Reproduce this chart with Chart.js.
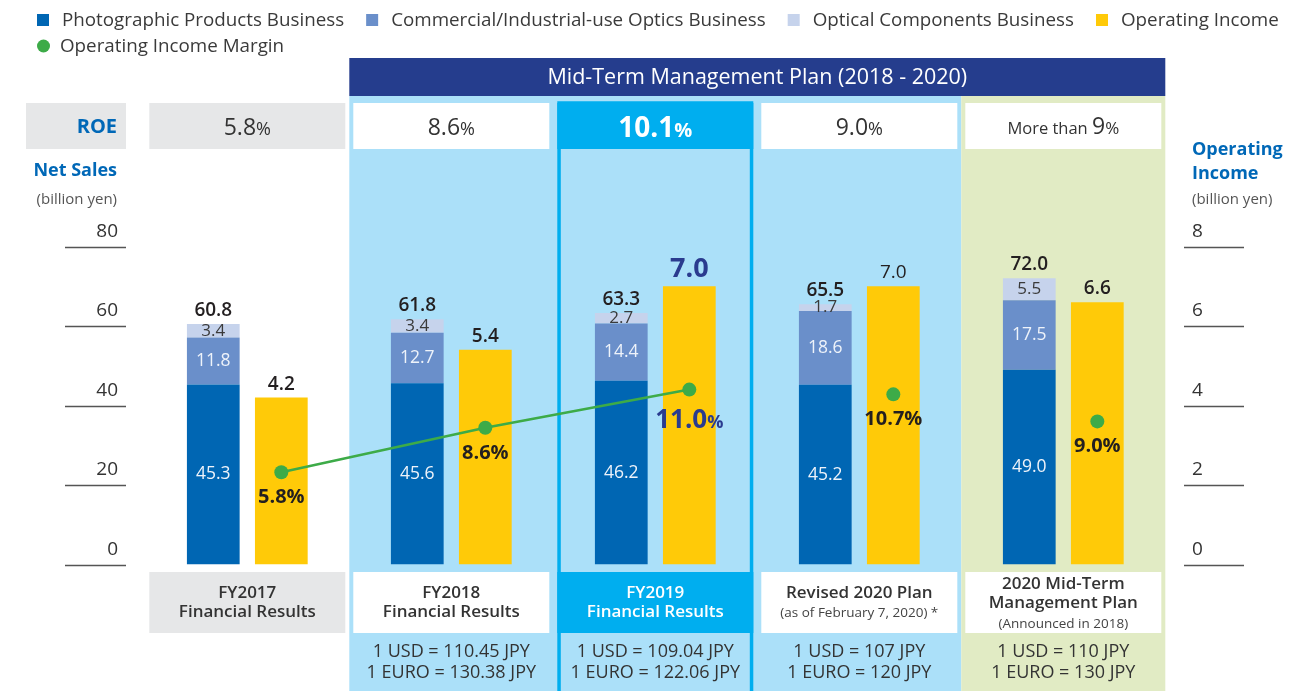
<!DOCTYPE html>
<html>
<head>
<meta charset="utf-8">
<script src="https://cdn.jsdelivr.net/npm/chart.js@4.4.1/dist/chart.umd.min.js"></script>
<style>
  html, body { margin: 0; padding: 0; background: #fff; }
  #wrap { width: 1313px; height: 691px; position: relative; }
</style>
</head>
<body>
<div id="wrap"><canvas id="chart"></canvas></div>
<script>
"use strict";

// columns (label lines) and the small note under some of them
const categories = [
  ["FY2017", "Financial Results"],
  ["FY2018", "Financial Results"],
  ["FY2019", "Financial Results"],
  ["Revised 2020 Plan"],
  ["2020 Mid-Term", "Management Plan"]
];
const categoryNotes = ["", "", "", "(as of February 7, 2020) *", "(Announced in 2018)"];

// net sales by business (billion yen)
const photographic = [45.3, 45.6, 46.2, 45.2, 49.0];
const commercial = [11.8, 12.7, 14.4, 18.6, 17.5];
const optical = [3.4, 3.4, 2.7, 1.7, 5.5];
const netSales = [60.8, 61.8, 63.3, 65.5, 72.0];

// operating income (billion yen) and operating income margin (%)
const operatingIncome = [4.2, 5.4, 7.0, 7.0, 6.6];
const operatingMargin = [5.8, 8.6, 11.0, 10.7, 9.0];

// ROE row
const roe = ["5.8", "8.6", "10.1", "9.0", "9"];
const roePrefix = ["", "", "", "", "More than "];

// exchange rates
const usdRates = ["", "1 USD = 110.45 JPY", "1 USD = 109.04 JPY", "1 USD = 107 JPY", "1 USD = 110 JPY"];
const euroRates = ["", "1 EURO = 130.38 JPY", "1 EURO = 122.06 JPY", "1 EURO = 120 JPY", "1 EURO = 130 JPY"];

// axis ticks
const salesTicks = [0, 20, 40, 60, 80];
const incomeTicks = [0, 2, 4, 6, 8];

const planTitle = "Mid-Term Management Plan (2018 - 2020)";

// colours
const C = {
  photo: "#0066b3",
  comm: "#6a8fca",
  opt: "#c6d3ec",
  oi: "#ffca08",
  margin: "#3dab48",
  navy: "#253d8d",
  sky: "#abe0f9",
  bright: "#00aeef",
  lime: "#e1ebc4",
  gray: "#e6e7e8",
  text: "#333333",
  title: "#0068b7",
  big: "#2a3b8f"
};

const FAMILY = '"Open Sans"';
const font = (w, s) => w + " " + s + "px " + FAMILY;
const HIGHLIGHT = 2; // FY2019
const PLAN_START = 1; // mid-term plan columns start here
const LIME_COL = 4;

function txt(ctx, s, x, y, f, color, align, base) {
  ctx.font = f;
  ctx.fillStyle = color;
  ctx.textAlign = align || "center";
  ctx.textBaseline = base || "middle";
  ctx.fillText(s, x, y);
}

// mixed size text on one baseline, centred on x
function txtParts(ctx, parts, x, y) {
  let total = 0;
  parts.forEach(function (p) { ctx.font = p.f; p.w = ctx.measureText(p.s).width; total += p.w; });
  let cx = x - total / 2;
  ctx.textAlign = "left";
  ctx.textBaseline = "alphabetic";
  parts.forEach(function (p) { ctx.font = p.f; ctx.fillStyle = p.c; ctx.fillText(p.s, cx, y); cx += p.w; });
}

function metaByLabel(chart, label) {
  const i = chart.data.datasets.findIndex(d => d.label === label);
  return chart.getDatasetMeta(i);
}

const decor = {
  id: "decor",
  beforeDraw(chart) {
    const ctx = chart.ctx;
    const x = chart.scales.x;
    const n = categories.length;
    const step = x.getPixelForValue(1) - x.getPixelForValue(0);
    const half = step / 2;
    const H = chart.height;
    ctx.save();
    // background of the plan columns
    const bx0 = x.getPixelForValue(PLAN_START) - half;
    const bx1 = x.getPixelForValue(n - 1) + half;
    const limeX = x.getPixelForValue(LIME_COL) - half;
    ctx.fillStyle = C.sky;
    ctx.fillRect(bx0, 96, limeX - bx0, H - 96);
    ctx.fillStyle = C.lime;
    ctx.fillRect(limeX, 96, bx1 - limeX, H - 96);
    // plan header band
    ctx.fillStyle = C.navy;
    ctx.fillRect(bx0, 58, bx1 - bx0, 38);
    txt(ctx, planTitle, (bx0 + bx1) / 2, 77.5, font(400, 21.5), "#ffffff");

    // ROE label box
    ctx.fillStyle = C.gray;
    ctx.fillRect(26, 103, 100, 46);
    txt(ctx, "ROE", 117, 127, font(700, 20), C.title, "right");

    // column boxes (ROE row and label row)
    for (let i = 0; i < n; i++) {
      const cx = x.getPixelForValue(i);
      const fill = i === 0 ? C.gray : (i === HIGHLIGHT ? C.bright : "#ffffff");
      ctx.fillStyle = fill;
      ctx.fillRect(cx - 98, 103, 196, 46);
      ctx.fillRect(cx - 98, 572, 196, 61);
    }
    // highlight outline
    const hx = x.getPixelForValue(HIGHLIGHT);
    ctx.strokeStyle = C.bright;
    ctx.lineWidth = 3.5;
    ctx.strokeRect(hx - 98 + 1.75, 103, 196 - 3.5, H);

    // axis titles
    txt(ctx, "Net Sales", 117, 171, font(700, 18), C.title, "right");
    txt(ctx, "(billion yen)", 117, 200, font(400, 15), "#555555", "right");
    txt(ctx, "Operating", 1192, 150, font(700, 18), C.title, "left");
    txt(ctx, "Income", 1192, 174, font(700, 18), C.title, "left");
    txt(ctx, "(billion yen)", 1192, 200, font(400, 15), "#555555", "left");

    // axis tick lines and labels
    const yl = chart.scales.y;
    const yr = chart.scales.yOI;
    ctx.strokeStyle = "#555555";
    ctx.lineWidth = 1.3;
    salesTicks.forEach(function (v) {
      const py = Math.round(yl.getPixelForValue(v)) + 0.5;
      ctx.beginPath(); ctx.moveTo(65, py); ctx.lineTo(126, py); ctx.stroke();
      txt(ctx, String(v), 118, py - 15.5, font(400, 19), C.text, "right");
    });
    incomeTicks.forEach(function (v) {
      const py = Math.round(yr.getPixelForValue(v)) + 0.5;
      ctx.beginPath(); ctx.moveTo(1184, py); ctx.lineTo(1244, py); ctx.stroke();
      txt(ctx, String(v), 1192, py - 15.5, font(400, 19), C.text, "left");
    });
    ctx.restore();
  },
  beforeDatasetDraw(chart, args) {
    // margin line sits on the operating income bars
    if (args.meta.type !== "line") return;
    const bar = metaByLabel(chart, "Operating Income").data[0];
    const dx = bar.x - args.meta.data[0].x;
    chart.ctx.save();
    chart.ctx.translate(dx, 0);
  },
  afterDatasetDraw(chart, args) {
    if (args.meta.type !== "line") return;
    chart.ctx.restore();
  },
  afterDatasetsDraw(chart) {
    const ctx = chart.ctx;
    const mPhoto = metaByLabel(chart, "Photographic Products Business");
    const mComm = metaByLabel(chart, "Commercial/Industrial-use Optics Business");
    const mOpt = metaByLabel(chart, "Optical Components Business");
    const mOI = metaByLabel(chart, "Operating Income");
    const mLine = metaByLabel(chart, "Operating Income Margin");
    ctx.save();
    for (let i = 0; i < categories.length; i++) {
      const p = mPhoto.data[i], c = mComm.data[i], o = mOpt.data[i], y = mOI.data[i], l = mLine.data[i];
      txt(ctx, photographic[i].toFixed(1), p.x, (p.y + p.base) / 2, font(400, 17.5), "#eef3fa");
      txt(ctx, commercial[i].toFixed(1), c.x, (c.y + c.base) / 2, font(400, 17.5), "#eef3fa");
      txt(ctx, optical[i].toFixed(1), o.x, (o.y + o.base) / 2, font(400, 17), "#3a3a3a");
      txt(ctx, netSales[i].toFixed(1), o.x, o.y - 8, font(600, 19), "#231f20", "center", "alphabetic");
      if (i === HIGHLIGHT) {
        txt(ctx, operatingIncome[i].toFixed(1), y.x, y.y - 9.5, font(700, 27), C.big, "center", "alphabetic");
        txtParts(ctx, [
          { s: operatingMargin[i].toFixed(1), f: font(700, 26), c: C.big },
          { s: "%", f: font(700, 18), c: C.big }
        ], y.x, l.y + 38);
      } else {
        const w = i === 3 ? 400 : 600;
        txt(ctx, operatingIncome[i].toFixed(1), y.x, y.y - 8, font(w, 19), "#231f20", "center", "alphabetic");
        txt(ctx, operatingMargin[i].toFixed(1) + "%", y.x, l.y + 31, font(700, 20), "#231f20", "center", "alphabetic");
      }
    }
    ctx.restore();
  },
  afterDraw(chart) {
    const ctx = chart.ctx;
    const x = chart.scales.x;
    ctx.save();
    // legend
    const ds = chart.data.datasets;
    const row1 = ["Photographic Products Business", "Commercial/Industrial-use Optics Business",
      "Optical Components Business", "Operating Income"];
    const lf = font(400, 18.8);
    let lx = 37;
    row1.forEach(function (name) {
      const d = ds.find(e => e.label === name);
      ctx.fillStyle = d.backgroundColor;
      ctx.fillRect(lx, 14, 12, 12);
      txt(ctx, name, lx + 25, 20.5, lf, "#3a3a3a", "left");
      ctx.font = lf;
      lx += 25 + ctx.measureText(name).width + 22;
    });
    const dm = ds.find(e => e.label === "Operating Income Margin");
    ctx.fillStyle = dm.borderColor;
    ctx.beginPath(); ctx.arc(43.5, 46, 6.5, 0, Math.PI * 2); ctx.fill();
    txt(ctx, dm.label, 60, 46.5, lf, "#3a3a3a", "left");

    // ROE values, column labels, rates
    for (let i = 0; i < categories.length; i++) {
      const cx = x.getPixelForValue(i);
      if (i === HIGHLIGHT) {
        txtParts(ctx, [
          { s: roe[i], f: font(700, 28), c: "#ffffff" },
          { s: "%", f: font(700, 20), c: "#ffffff" }
        ], cx, 137);
      } else if (roePrefix[i]) {
        txtParts(ctx, [
          { s: roePrefix[i], f: font(400, 16.5), c: C.text },
          { s: roe[i], f: font(400, 23), c: C.text },
          { s: "%", f: font(400, 17), c: C.text }
        ], cx, 134);
      } else {
        txtParts(ctx, [
          { s: roe[i], f: font(400, 23), c: C.text },
          { s: "%", f: font(400, 18), c: C.text }
        ], cx, 135);
      }
      const color = i === HIGHLIGHT ? "#ffffff" : C.text;
      const lines = categories[i];
      const note = categoryNotes[i];
      const count = lines.length + (note ? 1 : 0);
      let ty = count === 3 ? 584 : 593;
      lines.forEach(function (s) {
        txt(ctx, s, cx, ty, font(600, 17), color);
        ty += 19.5;
      });
      if (note) txt(ctx, note, cx, ty + 1, font(400, 13.5), "#444444");
      if (usdRates[i]) {
        txt(ctx, usdRates[i], cx, 652, font(400, 18), C.text);
        txt(ctx, euroRates[i], cx, 673, font(400, 18), C.text);
      }
    }
    ctx.restore();
  }
};

Chart.defaults.font.family = FAMILY;

const ctx = document.getElementById("chart");
const myChart = new Chart(ctx, {
  type: "bar",
  data: {
    labels: categories,
    datasets: [
      {
        type: "line",
        label: "Operating Income Margin",
        data: operatingMargin,
        yAxisID: "yMargin",
        borderColor: C.margin,
        backgroundColor: C.margin,
        borderWidth: 2.5,
        pointRadius: 7,
        pointBorderWidth: 0,
        pointBackgroundColor: C.margin,
        tension: 0,
        segment: {
          // only actual results are joined
          borderColor: c => (c.p0DataIndex >= HIGHLIGHT ? "transparent" : C.margin)
        }
      },
      { label: "Photographic Products Business", data: photographic, backgroundColor: C.photo, stack: "sales", yAxisID: "y" },
      { label: "Commercial/Industrial-use Optics Business", data: commercial, backgroundColor: C.comm, stack: "sales", yAxisID: "y" },
      { label: "Optical Components Business", data: optical, backgroundColor: C.opt, stack: "sales", yAxisID: "y" },
      { label: "Operating Income", data: operatingIncome, backgroundColor: C.oi, stack: "oi", yAxisID: "yOI" }
    ]
  },
  options: {
    responsive: true,
    maintainAspectRatio: false,
    animation: false,
    layout: { padding: { left: 145.3, right: 147.7, top: 246.5, bottom: 126.5 } },
    datasets: {
      bar: { categoryPercentage: 0.667, barPercentage: 0.775, borderWidth: 0 }
    },
    plugins: {
      legend: { display: false },
      tooltip: { enabled: false }
    },
    scales: {
      x: { display: false, stacked: true, offset: true, grid: { display: false } },
      y: { display: false, stacked: true, min: 0, max: 80 },
      yOI: { display: false, stacked: true, min: 0, max: 8 },
      yMargin: { display: false, min: 0, max: 20 }
    }
  },
  plugins: [decor]
});
</script>
</body>
</html>
